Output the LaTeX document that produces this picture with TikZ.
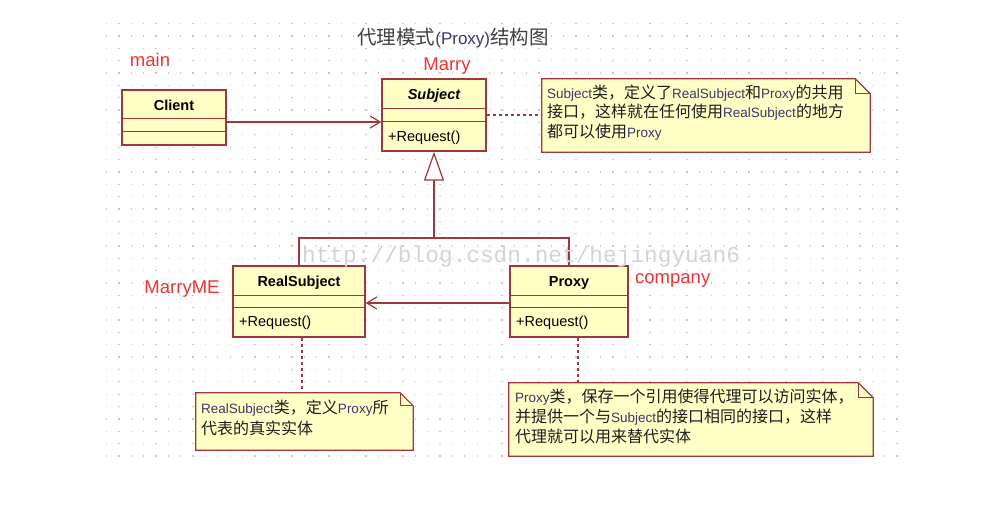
\documentclass[tikz,border=0pt]{standalone}
\usepackage{fontspec}
\setmainfont{Liberation Sans}
\newfontfamily\cjk{Noto Sans CJK SC}
\newfontfamily\wmfont{Liberation Mono}
\usetikzlibrary{arrows.meta}
\definecolor{umlred}{RGB}{160,55,60}
\definecolor{umlfill}{RGB}{255,255,198}
\definecolor{lblred}{RGB}{245,50,50}
\definecolor{dotgray}{RGB}{200,200,200}
\definecolor{wmgray}{RGB}{212,212,212}
\definecolor{notetxt}{RGB}{30,30,30}
\definecolor{latc}{RGB}{60,55,105}
\definecolor{titlec}{RGB}{64,64,64}
\newcommand\zh[1]{{\cjk\fontsize{16}{20}\selectfont #1}}
\newcommand\lt[1]{\textcolor{latc}{#1}}
\tikzset{
  umlbox/.style={draw=umlred, fill=umlfill, line width=1.3pt, inner sep=0pt},
  umlline/.style={draw=umlred, line width=1.3pt},
  assoc/.style={draw=umlred, line width=1.2pt, -{Straight Barb[length=10pt,width=12pt]}},
  genline/.style={draw=umlred, line width=1.2pt},
  dashline/.style={draw=umlred, line width=1.1pt, dash pattern=on 3pt off 3pt},
  notebox/.style={draw=none, fill=none, inner sep=0pt},
  noteshape/.style={draw=umlred, fill=umlfill, line width=1.2pt, line join=miter},
  boxname/.style={anchor=base, inner sep=0pt, font=\fontsize{14.5}{17}\selectfont\bfseries},
  method/.style={anchor=base west, inner sep=0pt, font=\fontsize{14.5}{17}\selectfont},
  notetext/.style={anchor=base west, inner sep=0pt, text=notetxt, font=\fontsize{13.5}{16}\selectfont},
  redlbl/.style={anchor=base, inner sep=0pt, text=lblred, font=\fontsize{18.5}{22}\selectfont},
}
\newcommand\drawnote[2]{%
  \draw[noteshape] (#1.north west) -- ([xshift=-#2]#1.north east) -- ([yshift=-#2]#1.north east) -- (#1.south east) -- (#1.south west) -- cycle;
  \draw[noteshape, fill=none] ([xshift=-#2]#1.north east) -- ([xshift=-#2,yshift=-#2]#1.north east) -- ([yshift=-#2]#1.north east);
}
\begin{document}
\begin{tikzpicture}[x=1pt,y=-1pt]
\useasboundingbox (0,0) rectangle (998,525);
\fill[white] (0,0) rectangle (998,525);
% dotted grid
\foreach \i in {0,...,64}{
  \foreach \j in {0,...,35}{
    \fill[dotgray] ({106+\i*12.35},{23+\j*12.35}) rectangle ++(1.3,1.3);
  }
}
% boxes (nodes)
\node[umlbox, minimum width=104pt, minimum height=55pt] (client) at (174,117.5) {};
\node[umlbox, minimum width=104pt, minimum height=72pt] (subject) at (434,115) {};
\node[umlbox, minimum width=132pt, minimum height=71pt] (realsubject) at (299,301.5) {};
\node[umlbox, minimum width=118pt, minimum height=71pt] (proxy) at (569,301.5) {};
\node[notebox, minimum width=328pt, minimum height=73pt] (note1) at (706,115.5) {};
\node[notebox, minimum width=217pt, minimum height=57pt] (note2) at (304.5,421.5) {};
\node[notebox, minimum width=364pt, minimum height=73pt] (note3) at (691,419.5) {};
% connectors
\draw[assoc] ([yshift=-4.5pt]client.east) -- ([yshift=-4.5pt]client.east -| subject.west);
\draw[assoc] ([yshift=-1.5pt]proxy.west) -- ([yshift=-1.5pt]proxy.west -| realsubject.east);
\coordinate (join) at (subject.south |- 0,238);
\draw[genline] (realsubject.north) |- (join) -| (proxy.north);
\draw[genline, -{Triangle[length=29pt,width=20pt,fill=white]}] (join) -- (subject.south);
\draw[dashline] (subject.east) -- (subject.east -| note1.west);
\draw[dashline] ([xshift=3pt]realsubject.south) -- ([xshift=3pt]realsubject.south |- note2.north);
\draw[dashline] ([xshift=9pt]proxy.south) -- ([xshift=9pt]proxy.south |- note3.north);
% redraw boxes over connector ends
\node[umlbox, minimum width=104pt, minimum height=55pt] at (client) {};
\node[umlbox, minimum width=104pt, minimum height=72pt] at (subject) {};
\node[umlbox, minimum width=132pt, minimum height=71pt] at (realsubject) {};
\node[umlbox, minimum width=118pt, minimum height=71pt] at (proxy) {};
% compartments
\draw[umlline] ([yshift=-29pt]client.north west) -- ([yshift=-29pt]client.north east);
\draw[umlline] ([yshift=-42pt]client.north west) -- ([yshift=-42pt]client.north east);
\draw[umlline] ([yshift=-30pt]subject.north west) -- ([yshift=-30pt]subject.north east);
\draw[umlline] ([yshift=-43pt]subject.north west) -- ([yshift=-43pt]subject.north east);
\draw[umlline] ([yshift=-30pt]realsubject.north west) -- ([yshift=-30pt]realsubject.north east);
\draw[umlline] ([yshift=-42pt]realsubject.north west) -- ([yshift=-42pt]realsubject.north east);
\draw[umlline] ([yshift=-30pt]proxy.north west) -- ([yshift=-30pt]proxy.north east);
\draw[umlline] ([yshift=-42pt]proxy.north west) -- ([yshift=-42pt]proxy.north east);
% notes
\drawnote{note1}{15pt}
\drawnote{note2}{13pt}
\drawnote{note3}{15pt}
% box texts
\node[boxname] (clientname) at (174,110) {Client};
\node[boxname, font=\fontsize{14.5}{17}\selectfont\bfseries\itshape] (subjectname) at (434,99) {Subject};
\node[method] (subjectop) at (388,141) {+Request()};
\node[boxname] (realname) at (299,286) {RealSubject};
\node[method] (realop) at (239,326) {+Request()};
\node[boxname] (proxyname) at (569,286) {Proxy};
\node[method] (proxyop) at (516,326) {+Request()};
% note texts
\node[notetext] (n1a) at (547,98) {\lt{Subject}\zh{类，定义了}\lt{RealSubject}\zh{和}\lt{Proxy}\zh{的共用}};
\node[notetext] (n1b) at (547,117.5) {\zh{接口，这样就在任何使用}\lt{RealSubject}\zh{的地方}};
\node[notetext] (n1c) at (547,137) {\zh{都可以使用}\lt{Proxy}};
\node[notetext] (n2a) at (201,413) {\lt{RealSubject}\zh{类，定义}\lt{Proxy}\zh{所}};
\node[notetext] (n2b) at (201,434) {\zh{代表的真实实体}};
\node[notetext] (n3a) at (515,402) {\lt{Proxy}\zh{类，保存一个引用使得代理可以访问实体，}};
\node[notetext] (n3b) at (515,422) {\zh{并提供一个与}\lt{Subject}\zh{的接口相同的接口，这样}};
\node[notetext] (n3c) at (515,442) {\zh{代理就可以用来替代实体}};
% title and labels
\node[anchor=base, inner sep=0pt, text=titlec] (title) at (453,44) {{\cjk\fontsize{19.5}{22}\selectfont 代理模式}{\fontsize{17}{20}\selectfont\textcolor{latc}{(Proxy)}}{\cjk\fontsize{19.5}{22}\selectfont 结构图}};
\node[redlbl] (lmain) at (150,66) {main};
\node[redlbl] (lmarry) at (447,70) {Marry};
\node[redlbl] (lmarryme) at (182,293) {MarryME};
\node[redlbl, anchor=base west] (lcompany) at (635,283) {company};
% watermark
\node[anchor=base west, inner sep=0pt, text=wmgray, font=\wmfont\fontsize{22.8}{26}\selectfont] (wm) at (302,262) {http://blog.csdn.net/hejingyuan6};
\end{tikzpicture}
\end{document}
